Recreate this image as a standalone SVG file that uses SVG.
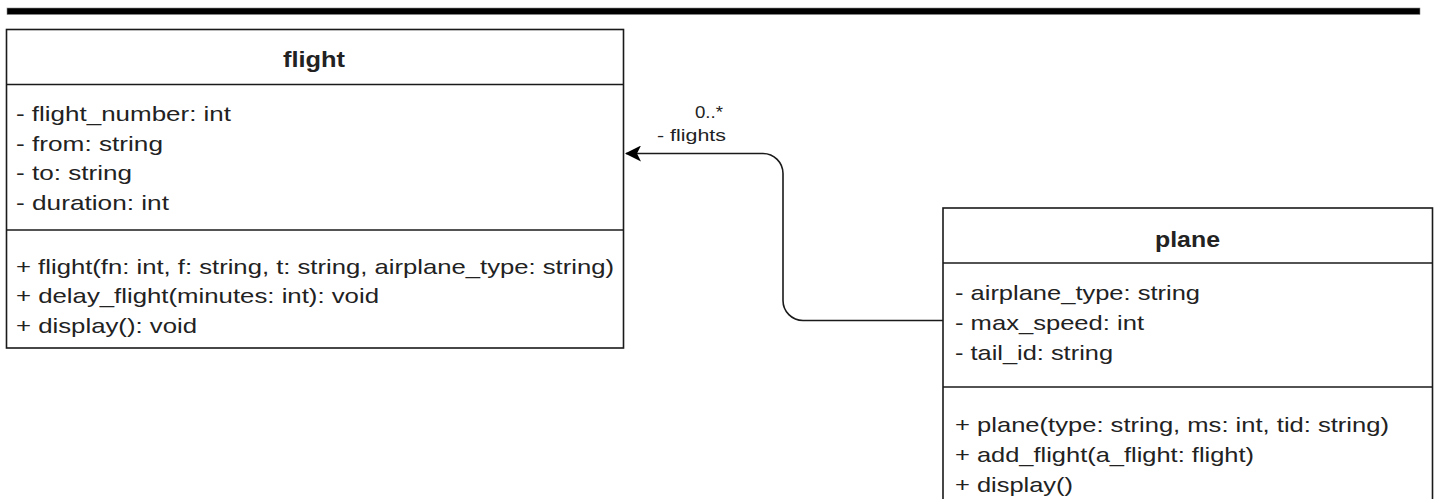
<svg xmlns="http://www.w3.org/2000/svg" width="1439" height="499" viewBox="0 0 1439 499">
<defs>
<style>
.box{fill:#fff;stroke:#1a1a1a;stroke-width:1.6}
.sep{stroke:#1a1a1a;stroke-width:1.6}
.t{font-family:"Liberation Sans",Arial,sans-serif;font-size:21px;fill:#222}
.title{font-family:"Liberation Sans",Arial,sans-serif;font-size:22px;font-weight:bold;fill:#222}
.lbl{font-family:"Liberation Sans",Arial,sans-serif;font-size:17px;fill:#222}
.edge{fill:none;stroke:#1a1a1a;stroke-width:1.6}
</style>
<marker id="arr" viewBox="0 0 16 16" refX="15" refY="8" markerWidth="16" markerHeight="16" markerUnits="userSpaceOnUse" orient="auto">
<path d="M0,0 L16,8 L0,16 L4,8 Z" fill="#000"/>
</marker>
</defs>
<rect id="topbar" x="7" y="8" width="1413" height="6.5" fill="#000" stroke="#888" stroke-width="0.6"/>
<g id="flight">
<rect class="box" x="6.5" y="29.5" width="617" height="318.5"/>
<line class="sep" x1="6.5" y1="84.5" x2="623.5" y2="84.5"/>
<line class="sep" x1="6.5" y1="230" x2="623.5" y2="230"/>
<text class="title" x="283" y="67" textLength="62" lengthAdjust="spacingAndGlyphs">flight</text>
<text class="t" x="16" y="121" textLength="215" lengthAdjust="spacingAndGlyphs">- flight_number: int</text>
<text class="t" x="16" y="151" textLength="147" lengthAdjust="spacingAndGlyphs">- from: string</text>
<text class="t" x="16" y="180" textLength="116" lengthAdjust="spacingAndGlyphs">- to: string</text>
<text class="t" x="16" y="210" textLength="153" lengthAdjust="spacingAndGlyphs">- duration: int</text>
<text class="t" x="16" y="274" textLength="598" lengthAdjust="spacingAndGlyphs">+ flight(fn: int, f: string, t: string, airplane_type: string)</text>
<text class="t" x="16" y="303" textLength="363" lengthAdjust="spacingAndGlyphs">+ delay_flight(minutes: int): void</text>
<text class="t" x="16" y="333" textLength="181" lengthAdjust="spacingAndGlyphs">+ display(): void</text>
</g>
<g id="plane">
<rect class="box" x="943" y="208" width="489.5" height="300"/>
<line class="sep" x1="943" y1="263" x2="1432.5" y2="263"/>
<line class="sep" x1="943" y1="387" x2="1432.5" y2="387"/>
<text class="title" x="1155" y="247" textLength="65" lengthAdjust="spacingAndGlyphs">plane</text>
<text class="t" x="955" y="300" textLength="245" lengthAdjust="spacingAndGlyphs">- airplane_type: string</text>
<text class="t" x="955" y="330" textLength="189" lengthAdjust="spacingAndGlyphs">- max_speed: int</text>
<text class="t" x="955" y="360" textLength="158" lengthAdjust="spacingAndGlyphs">- tail_id: string</text>
<text class="t" x="955" y="432" textLength="434" lengthAdjust="spacingAndGlyphs">+ plane(type: string, ms: int, tid: string)</text>
<text class="t" x="955" y="462" textLength="299" lengthAdjust="spacingAndGlyphs">+ add_flight(a_flight: flight)</text>
<text class="t" x="955" y="492" textLength="118" lengthAdjust="spacingAndGlyphs">+ display()</text>
</g>
<g id="connectors">
<path class="edge" d="M943,320.5 L803,320.5 A20,20 0 0 1 783,300.5 L783,173.5 A20,20 0 0 0 763,153.5 L626,153.5" marker-end="url(#arr)"/>
<text class="lbl" x="695" y="118" textLength="28" lengthAdjust="spacingAndGlyphs">0..*</text>
<text class="lbl" x="657" y="141" textLength="69" lengthAdjust="spacingAndGlyphs">- flights</text>
</g>
</svg>
